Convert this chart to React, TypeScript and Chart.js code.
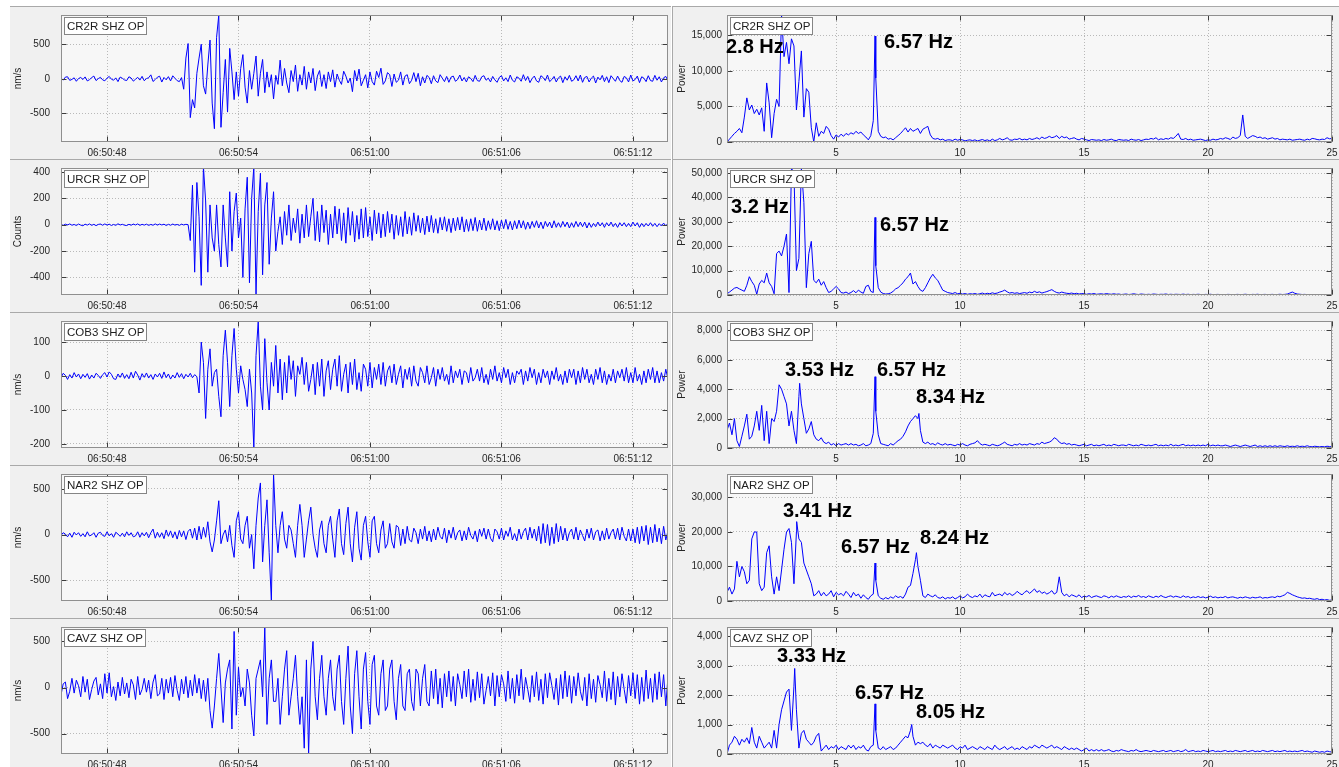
import { useEffect, useRef } from "react";
import { Chart, registerables } from "chart.js";

Chart.register(...registerables);
Chart.defaults.font.family = '"Liberation Sans", Arial, sans-serif';
Chart.defaults.color = "#262626";

// ---------------------------------------------------------------------------
// Stations (vertical short-period channels)
// ---------------------------------------------------------------------------
const STATIONS = ["CR2R SHZ OP", "URCR SHZ OP", "COB3 SHZ OP", "NAR2 SHZ OP", "CAVZ SHZ OP"];
const TRACE_UNITS = ["nm/s", "Counts", "nm/s", "nm/s", "nm/s"];

// ---------------------------------------------------------------------------
// Seismograms: seconds after 06:50:00, one sample every 0.1 s
// ---------------------------------------------------------------------------
const TRACE_T0 = 45.9;
const TRACE_DT = 0.1;
const TIME_TICKS = [48, 54, 60, 66, 72];

const CR2R_TRACE = [
  12, -18, 25, 30, -22, -8, 15, -35, 5, 20,
  -10, 28, -30, -12, 18, 40, -25, 3, 22, -15,
  -28, 10, 35, -5, -20, 14, -40, 26, 8, -16,
  -24, 30, 12, -33, -6, 22, -18, 36, -28, 4,
  16, 58, -38, -10, 24, 38, -46, 20, -14, 32,
  -30, 44, 8, -26, -40, 18,
  -150, 300, 510, -560, -300, -420, 80, 300, 500, -100,
  -220, 200, 560, -350, -720, 600, 920, -700, -200, 280,
  -480, 440, 100, -300, 100, -250, 150, 350, -120, -350,
  120, -150, 80, 330, -250, 80, 280, -200, 100, -120,
  60, -290, 50, -80, 270, -100, 150, -60, -200, 120,
  -40, 200, -180, 60, -90, 180, -150, 100, -60, 150,
  -170, 40, 120, -110, 60, -140, 100, -40, 130, -120,
  70, -20, -80, 110, 40, -60, 10, -185, 120, -30,
  140, -100, -20, 60, -130, 100, -40, -90, 110, 20,
  154, -80, -30, 90, 60, -110, 70, -50, -20, 100,
  -90, 40, 60, -70, -20, 90, -40, 80, -100, 30,
  -60, 50, 20, -70, 45, -30, -55, 60, 10, -40,
  35, -50, 25, 40, -35, -10, 55, -30, 20, -45,
  30, 5, -40, 50, -25, -35, 30, 45, -20, 10,
  -45, 35, -15, -50, 20, 45, -30, 15, -40, 55,
  -20, -45, 30, 10, -35, 60, -25, 35, -55, 5,
  40, -30, -50, 45, 20, -25, 55, -40, -10, 35,
  -45, 15, 40, -55, 30, -20, 50, -35, -15, 45,
  -30, 55, -50, 20, 35, -45, 10, 40, -60, 25,
  -15, 50, -40, 30, -55, 45, 5, -35, 40, -25,
  -50, 35, 15, -45, 55, -30, -10, 40, -55, 30,
  10, -40, 45, -25, -35, 50, -20, 30, -45, 15, 35, -30,
];

const URCR_TRACE = [
  3, -5, 4, -2, 6, -4, 2, -6, 5, -3,
  -8, 4, -3, 6, -5, 3, -7, 2, 5, -4,
  6, -3, 4, -6, 2, -5, 7, -2, 3, -4,
  -6, 3, -4, 5, -2, 6, -5, 3, -3, 4,
  -5, 2, -4, 6, -3, 5, -2, 4, -6, 3,
  -4, 5, -3, 2, -5, 4, -2, 3,
  0, -120, 300, -360, 320, 60, -460, 440, 180, -360,
  150, -100, -200, 150, -150, -320, 150, -100, -320, 250,
  -200, 100, 240, -100, 50, -400, 120, 360, -440, 200,
  440, -533, 100, 390, -380, 150, 320, -300, 50, 250,
  -200, -50, 60, -150, 100, -80, 150, -120, 50, -60,
  120, -140, 80, -100, 150, -90, 60, 200, -120, 100,
  -130, 150, -60, 110, -150, 80, -100, 140, -70, 120,
  -120, 90, -140, 130, -80, 100, -130, 70, -110, 120,
  -100, 130, -90, 60, -120, 110, -70, 90, -100, 80,
  -90, 100, -60, 80, -110, 70, -80, 60, -90, 100,
  -70, 60, -80, 90, -50, 70, -60, 50, -75, 65,
  -55, 70, -60, 45, -65, 55, -40, 60, -50, 45,
  -60, 50, -45, 55, -40, 60, -55, 40, -50, 45,
  -45, 55, -50, 35, -40, 50, -45, 30, -35, 45,
  -40, 30, -45, 35, -30, 40, -35, 25, -40, 30,
  -30, 35, -25, 30, -35, 20, -30, 25, -20, 30,
  -25, 20, -30, 25, -15, 20, -25, 30, -20, 15,
  -20, 25, -15, 20, -25, 15, -20, 25, -15, 20,
  -15, 20, -25, 15, -20, 10, -15, 20, -10, 15,
  -20, 15, -10, 20, -15, 10, -20, 15, -10, 15,
  -15, 10, -15, 20, -10, 15, -20, 10, -15, 10,
  -10, 15, -12, 10, -15, 8, -10, 12, -8, 10,
];

const COB3_TRACE = [
  -5, 8, 2, -10, 4, -6, 10, -3, 6, -8,
  5, -4, 7, -9, 3, -6, 8, 2, -7, 4,
  10, -3, 12, 5, -8, -10, 6, -4, 9, -7,
  4, -8, 11, -6, 14, 3, -12, 7, -4, 9,
  -6, 4, -10, 6, -3, 8, -7, 12, -5, 6,
  -9, 3, -6, 10, -4, 7, -8, 5, -3, 8,
  -5, 4, -2,
  -50, 100, 40, -125, 20, 80, -30, 10, 20, -60,
  -120, 60, 135, 40, -90, 60, 140, 20, -50, 30,
  -10, -40, -90, 20, -50, -212, 60, 162, -30, -100,
  110, -20, -100, 40, -30, 90, -50, 50, -70, 40,
  -50, 60, -10, 45, -60, 30, 5, 55, -25, 40,
  -45, -10, 35, -55, 40, -30, 50, -60, 15, 45,
  -40, 20, 50, -30, 60, -45, 5, 35, -50, 40,
  -25, 50, -40, 10, -45, 35, 20, -30, 40, -35,
  25, -10, 35, -25, 40, -30, 15, 30, -20, 35,
  -25, 5, 30, -35, 20, -10, 25, -30, 30, -15,
  -30, 25, 10, -20, 30, -25, -5, 25, -30, 20,
  -10, 25, -15, 5, -25, 30, -20, 15, -5, 20,
  -25, 15, 10, -20, 25, -15, -5, 20, -15, 25,
  -20, 5, -25, 20, -10, 30, -15, 10, -20, 25,
  -5, 20, -25, 10, -20, 15, 5, 20, -25, 15,
  -15, 25, -5, 20, -25, 10, -20, 20, -5, 15,
  -25, 15, -10, 25, -15, 5, -25, 15, -20, 20,
  -5, 20, -25, 15, -20, 25, -10, 20, -20, 5,
  -25, 20, -10, 25, -20, 15, -25, 5, -15, 20,
  -20, 15, -5, 20, -15, 25, -20, 10, -20, 25,
  -15, 5, -25, 15, -20, 20, -10, 25, -20, 15,
  -20, 10, -15, 20, -10,
];

const NAR2_TRACE = [
  -10, 20, 5, -25, 15, -30, 25, -5, 20, -20,
  10, -25, 30, -15, -5, 20, -30, 15, 25, -10,
  -20, 30, -15, 10, -30, 25, 5, -20, 15, -25,
  30, -10, 20, -25, -15, 30, -30, 20, -15, 25,
  -35, 20, 60, -40, 25, -30, 20, -45, 50, -20,
  40, -35, 30, -50, 45, -25, 40, -55, 35, 60,
  -40, 70, -60, 90, -50, 80, -30, 140, -80, -190,
  -60, 150, 370, -100, 0, 50, -80, 100, -120, -250,
  150, 250, -50, -100, 100, 200, -150, 0, -375, 100,
  400, 565, -300, 100, 380, -200, -728, 663, 100, -200,
  100, 250, -50, -150, 100, 50, -100, -250, 100, 330,
  100, -250, -50, 150, 300, 0, -150, -250, 50, 150,
  -100, -200, 100, 200, -50, -250, 150, 280, -100, -220,
  120, 300, -100, -300, 80, 250, -150, -280, 100, 200,
  -80, -250, 150, 200, -100, -200, 50, 150, -150, -100,
  120, -80, -150, 100, 80, -120, 60, -100, 90, -60,
  -80, 70, 20, -100, 60, -50, 90, -70, 40, -80,
  60, -60, 80, -20, -50, 70, -90, 50, -40, 80,
  -60, 20, 50, -70, 40, -60, 80, -10, -50, 40,
  -80, 60, -20, 70, -50, 60, -40, -80, 60, 30,
  -50, 70, -60, 40, -20, 80, -60, 10, -70, 60,
  -50, 30, 70, -60, 80, -40, 60, -70, 90, -100,
  120, -90, 110, -120, 80, -100, 120, -80, 90, -60,
  70, -70, 20, 60, -50, 80, -60, 50, -10, -70,
  60, -40, 70, -60, 30, 50, -70, 40, -60, 70,
  -50, 20, 60, -50, 70, -60, 80, -20, -70, 60,
  -70, 60, -90, 80, -100, 90, -70, 100, -110, 80,
  -90, 110, -80, 70, -100, 90, -60, 40,
];

const CAVZ_TRACE = [
  -80, 40, 60, -120, -40, 100, -60, 80, 20, -100,
  120, -50, 90, -130, -20, 70, 110, -80, 40, -120,
  150, -60, 160, -100, 10, -140, 60, -90, 110, -70,
  50, -110, 90, 30, -130, 120, -80, -20, 100, -50,
  80, -120, 60, 140, -90, -70, 100, -130, 90, -60,
  110, -100, 130, -30, -140, 90, -70, 120, -110, 80,
  -90, 140, -60, 100, -120, 80, -150, 100, -250, -440,
  -200, 100, 370, 0, -380, 50, 200, 300, -450, 609,
  -300, 220, -100, 0, -200, 200, 50, -300, -525, 100,
  200, 300, -100, 657, -400, 100, 300, -150, -150, 100,
  -400, -100, 200, 400, -300, -100, 100, 350, -100, -400,
  -100, -658, 300, -721, 200, 500, -100, -350, 100, 350,
  -100, -300, 100, 300, -100, -250, 200, 350, -150, -400,
  100, 450, -200, -500, 150, 400, -100, -450, 200, 380,
  -150, -400, 250, 350, -200, -300, 150, 300, -250, -200,
  200, 300, -150, -350, 100, 250, -200, -250, 150, 200,
  -150, -250, 200, 150, -200, 100, 250, -150, -200, 180,
  -120, 200, -180, 100, -220, 150, -100, 180, -150, 120,
  -200, 150, 30, -120, 180, -100, 200, -160, 90, -140,
  170, -110, 150, -180, -30, 120, -90, 160, -200, 130,
  -100, 140, 40, -150, 180, -120, 100, -170, 140, -90,
  200, -130, 110, -20, -160, 130, -100, 170, -140, 90,
  -180, 150, -110, 160, 20, -130, 100, -190, 140, -120,
  180, -100, 130, -170, 120, -90, 160, -40, -140, 110,
  -200, 150, -120, 90, -160, 130, 30, -110, 180, -150,
  100, -130, 170, -190, 120, -100, 150, -20, -170, 130,
  -90, 160, -120, 140, -180, 110, -150, 190, -120, 100,
  -160, 150, -130, 170, -100, 140, -200, 120,
];

const TRACE_LIMITS = [[-912, 922], [-533, 430], [-212, 162], [-728, 663], [-721, 657]];
const TRACE_TICKS = [
  [-500, 0, 500],
  [-400, -200, 0, 200, 400],
  [-200, -100, 0, 100],
  [-500, 0, 500],
  [-500, 0, 500],
];

// ---------------------------------------------------------------------------
// Power spectra: one value every 0.1 Hz from 0.6 Hz to 25 Hz,
// plus the picked spectral peaks [frequency Hz, power]
// ---------------------------------------------------------------------------
const FREQ_F0 = 0.6;
const FREQ_DF = 0.1;
const FREQ_TICKS = [5, 10, 15, 20, 25];

const CR2R_SPECTRUM = [
  0, 400, 800, 1200, 1500, 1900, 1300, 3500, 6200, 4500,
  5200, 4000, 4600, 3800, 4800, 1500, 8300, 5500, 600, 4000,
  6000, 5000, 16000, 12000, 14000, 11000, 14500, 13500, 4500, 8500,
  12800, 3500, 7500, 7000, 2000, 0, 2700, 800, 1500, 1200,
  2200, 1800, 900, 400, 1000, 700, 1100, 800, 1200, 1000,
  1300, 1100, 1500, 1200, 1400, 1000, 700, 300, 900, 3000,
  9000, 1500, 800, 600, 700, 400, 500, 300, 600, 900,
  1200, 1600, 2000, 1400, 1900, 1500, 1700, 1900, 1200, 1800,
  2000, 2200, 1000, 500, 400, 500, 300, 400, 200, 300,
  300, 200, 400, 250, 350, 300, 150, 250, 300, 200,
  300, 150, 250, 350, 200, 300, 150, 400, 200, 300,
  500, 300, 400, 600, 300, 250, 400, 350, 500, 300,
  400, 300, 500, 350, 450, 600, 400, 700, 500, 600,
  800, 600, 700, 900, 500, 800, 600, 700, 400, 500,
  600, 400, 300, 500, 400, 300, 200, 350, 300, 250,
  300, 200, 350, 250, 300, 400, 250, 200, 350, 300,
  250, 300, 200, 400, 300, 250, 350, 200, 300, 400,
  350, 500, 400, 600, 300, 450, 350, 500, 400, 600,
  500, 800, 1200, 400, 350, 500, 300, 400, 250, 300,
  350, 400, 300, 200, 300, 250, 400, 300, 350, 500,
  400, 600, 500, 350, 700, 500, 600, 900, 3800, 800,
  500, 700, 900, 800, 600, 700, 500, 600, 400, 500,
  600, 400, 500, 300, 400, 350, 300, 400, 250, 300,
  350, 400, 300, 250, 400, 300, 500, 450, 350, 300,
  400, 350, 600, 450, 500,
];
const CR2R_PEAKS = [[2.8, 17800], [6.57, 14900]];

const URCR_SPECTRUM = [
  500, 1200, 2000, 2800, 3100, 2500, 2000, 1500, 4000, 7500,
  5500, 4000, 300, 4500, 6000, 5000, 9000, 5000, 3500, 500,
  17000, 18000, 16000, 20000, 25000, 1000, 45000, 50000, 10000, 15000,
  52000, 38000, 3000, 17000, 22000, 6000, 5000, 6500, 4000, 5500,
  3000, 1000, 1500, 2500, 3500, 2500, 1000, 800, 1200, 600,
  1000, 1800, 900, 2000, 1200, 700, 3500, 4000, 1500, 1000,
  12000, 3000, 1200, 600, 400, 500, 800, 1500, 2500, 3000,
  4000, 5000, 6500, 7500, 9000, 4500, 5500, 3500, 2000, 1500,
  3000, 5000, 7000, 8500, 7000, 6000, 4000, 2000, 1500, 1000,
  800, 600, 1000, 500, 700, 400, 600, 300, 500, 400,
  600, 300, 500, 800, 400, 700, 500, 900, 600, 800,
  1200, 1500, 2000, 1300, 800, 1000, 700, 900, 600, 800,
  1000, 700, 1200, 900, 1500, 1000, 1300, 800, 1100, 1400,
  1800, 2200, 1500, 1000, 800, 1200, 900, 700, 600, 800,
  500, 700, 400, 600, 500, 300, 500, 400, 600, 300,
  400, 500, 300, 600, 400, 300, 500, 300, 400, 200,
  300, 400, 200, 300, 500, 300, 200, 400, 300, 200,
  300, 200, 400, 300, 200, 300, 250, 400, 200, 300,
  200, 300, 250, 200, 350, 200, 300, 150, 250, 200,
  300, 200, 150, 250, 200, 300, 150, 200, 250, 150,
  200, 150, 250, 200, 150, 200, 250, 150, 200, 300,
  200, 150, 250, 200, 300, 150, 200, 250, 150, 200,
  250, 150, 200, 300, 200, 250, 400, 800, 1200, 700,
  400, 300, 200, 250, 150, 200, 100, 150, 100, 150,
  100, 150, 80, 100, 50,
];
const URCR_PEAKS = [[3.2, 52000], [6.57, 31800]];

const COB3_SPECTRUM = [
  1200, 1700, 900, 2000, 500, 100, 800, 1500, 2300, 600,
  800, 1500, 2500, 1200, 2900, 500, 2500, 300, 2000, 1800,
  2500, 4300, 4000, 3500, 3000, 1500, 2500, 1200, 300, 3500,
  3000, 2000, 1000, 1300, 1800, 900, 600, 500, 700, 400,
  300, 400, 200, 300, 150, 300, 200, 250, 300, 200,
  300, 200, 250, 150, 200, 300, 150, 200, 300, 1000,
  2500, 900, 300, 250, 200, 150, 300, 200, 350, 500,
  600, 800, 1100, 1500, 1800, 2000, 2200, 2000, 1200, 400,
  300, 400, 250, 300, 200, 350, 250, 200, 300, 200,
  250, 200, 150, 250, 200, 300, 200, 150, 250, 300,
  350, 500, 300, 200, 250, 200, 150, 250, 200, 150,
  200, 300, 400, 250, 200, 150, 250, 200, 300, 200,
  250, 200, 300, 250, 200, 300, 250, 400, 300, 350,
  400, 500, 700, 600, 400, 300, 350, 250, 300, 200,
  250, 200, 150, 200, 250, 150, 200, 250, 150, 200,
  150, 200, 250, 150, 200, 150, 250, 200, 150, 200,
  200, 150, 250, 200, 150, 200, 150, 250, 200, 150,
  200, 150, 200, 250, 150, 200, 150, 200, 150, 250,
  150, 200, 150, 200, 250, 150, 200, 150, 200, 150,
  200, 150, 200, 150, 250, 150, 200, 150, 200, 150,
  150, 200, 150, 100, 150, 200, 150, 100, 150, 200,
  150, 100, 150, 200, 100, 150, 100, 150, 100, 150,
  100, 150, 100, 150, 120, 100, 150, 100, 120, 100,
  150, 100, 120, 100, 150, 100, 80, 120, 100, 80,
  100, 80, 120, 100, 80,
];
const COB3_PEAKS = [[3.53, 4400], [6.57, 4850], [8.34, 2350]];

const NAR2_SPECTRUM = [
  2500, 4000, 2000, 3500, 11500, 7000, 10000, 8500, 5000, 6000,
  18000, 20000, 20000, 5000, 3000, 4000, 14000, 16000, 7000, 2000,
  7000, 3000, 9000, 15000, 20000, 21000, 17000, 5000, 20000, 18000,
  17000, 11000, 9000, 7000, 5000, 1500, 2000, 3000, 1500, 2500,
  1500, 2000, 3000, 1200, 2500, 1800, 2200, 1500, 2800, 2000,
  1000, 2500, 1500, 2000, 800, 1800, 1000, 500, 1500, 2000,
  6000, 1500, 800, 500, 1000, 600, 1200, 800, 1500, 1000,
  1300, 800, 2000, 4000, 4500, 8000, 12000, 10000, 6000, 1500,
  1000, 2000, 1500, 1200, 1800, 1000, 800, 1200, 600, 1000,
  800, 1200, 600, 1000, 1500, 900, 1200, 2000, 1300, 1000,
  1500, 1200, 2000, 1000, 1800, 1400, 1200, 2500, 1500, 1800,
  2000, 1500, 2500, 1800, 2200, 1600, 2000, 2800, 2200, 1800,
  2500, 3000, 2200, 2800, 3500, 2500, 3000, 2200, 2600, 2000,
  2400, 3000, 2000, 2500, 7000, 2500, 1500, 2000, 1200, 1800,
  1500, 1200, 1800, 1000, 1400, 1200, 1600, 1000, 1300, 1500,
  1200, 1000, 1500, 1300, 900, 1400, 1100, 1500, 1200, 1000,
  1300, 1100, 1500, 1000, 1400, 1200, 1600, 1100, 1300, 1000,
  1500, 1200, 1000, 1400, 1100, 1600, 1200, 1000, 1300, 1500,
  1100, 1400, 1200, 1000, 1500, 1100, 1300, 900, 1200, 1000,
  1300, 1000, 1200, 900, 1100, 1400, 1000, 1200, 900, 1100,
  1000, 1300, 900, 1100, 1200, 1000, 800, 1100, 900, 1200,
  1000, 800, 1100, 900, 1000, 1200, 800, 1000, 900, 1100,
  1200, 1000, 1400, 1200, 1500, 1800, 2500, 2200, 1800, 1500,
  1200, 1000, 800, 900, 700, 800, 600, 500, 700, 400,
  500, 300, 400, 200, 300,
];
const NAR2_PEAKS = [[3.41, 23000], [6.57, 11000], [8.24, 14000]];

const CAVZ_SPECTRUM = [
  0, 300, 400, 600, 500, 300, 500, 400, 550, 350,
  900, 400, 200, 600, 400, 200, 300, 400, 200, 800,
  200, 1000, 1500, 1800, 2100, 2200, 800, 2300, 1500, 200,
  700, 800, 500, 400, 300, 400, 600, 700, 100, 200,
  300, 150, 250, 200, 300, 150, 250, 200, 150, 300,
  200, 300, 150, 250, 200, 300, 150, 100, 250, 300,
  800, 200, 150, 250, 150, 200, 250, 150, 200, 300,
  400, 500, 600, 550, 800, 600, 300, 400, 350, 400,
  300, 250, 350, 200, 300, 250, 200, 300, 250, 200,
  250, 300, 200, 150, 250, 200, 300, 150, 200, 250,
  200, 150, 250, 200, 150, 250, 200, 150, 300, 200,
  150, 200, 250, 150, 200, 250, 150, 200, 150, 250,
  200, 150, 250, 200, 300, 250, 200, 300, 250, 200,
  250, 300, 200, 250, 200, 150, 250, 200, 150, 200,
  150, 200, 150, 100, 150, 200, 100, 150, 100, 150,
  100, 150, 100, 120, 150, 100, 80, 120, 100, 150,
  120, 100, 80, 120, 100, 150, 100, 80, 100, 120,
  100, 80, 120, 100, 80, 100, 120, 80, 100, 120,
  80, 100, 120, 80, 100, 150, 80, 100, 120, 80,
  100, 80, 120, 100, 80, 100, 120, 80, 100, 80,
  100, 120, 80, 100, 80, 120, 100, 80, 100, 120,
  80, 100, 120, 80, 100, 80, 120, 100, 80, 100,
  120, 80, 100, 80, 100, 120, 80, 100, 80, 100,
  80, 100, 120, 80, 100, 80, 60, 100, 80, 60,
  80, 60, 100, 80, 60,
];
const CAVZ_PEAKS = [[3.33, 2900], [6.57, 1700], [8.05, 1000]];

const POWER_MAX = [17850, 52060, 8640, 36800, 4306];
const POWER_TICKS = [
  [0, 5000, 10000, 15000],
  [0, 10000, 20000, 30000, 40000, 50000],
  [0, 2000, 4000, 6000, 8000],
  [0, 10000, 20000, 30000],
  [0, 1000, 2000, 3000, 4000],
];

const TRACES = [CR2R_TRACE, URCR_TRACE, COB3_TRACE, NAR2_TRACE, CAVZ_TRACE];
const SPECTRA = [CR2R_SPECTRUM, URCR_SPECTRUM, COB3_SPECTRUM, NAR2_SPECTRUM, CAVZ_SPECTRUM];
const PEAKS = [CR2R_PEAKS, URCR_PEAKS, COB3_PEAKS, NAR2_PEAKS, CAVZ_PEAKS];

// ---------------------------------------------------------------------------
// Layout
// ---------------------------------------------------------------------------
const ROW_TOP = 7;
const ROW_PITCH = 153;
const CANVAS_H = 152;
const PLOT_TOP = 8;
const X_AXIS_H = 17;

const LEFT_COL = { left: 10, width: 661, axisWidth: 51, padRight: 3, tickPad: 11, titlePad: 2 };
const RIGHT_COL = { left: 673, width: 666, axisWidth: 54, padRight: 7, tickPad: 5, titlePad: 3.5 };

// peak label placement, [left, middle] in px from the plot's top-left corner
const PEAK_LABEL_SPOTS = [
  [[-1, 32], [157, 27]],
  [[4, 39], [153, 57]],
  [[58, 49], [150, 49], [189, 76]],
  [[56, 37], [114, 73], [193, 64]],
  [[50, 29], [128, 66], [189, 85]],
];

type Pt = { x: number; y: number };

function tracePoints(values: number[]): Pt[] {
  return values.map((v, i) => ({ x: +(TRACE_T0 + i * TRACE_DT).toFixed(2), y: v }));
}

function spectrumPoints(values: number[], peaks: number[][]): Pt[] {
  const pts = values
    .map((v, i) => ({ x: +(FREQ_F0 + i * FREQ_DF).toFixed(2), y: v }))
    .filter((p) => !peaks.some(([f]) => Math.abs(f - p.x) < 0.005));
  for (const [f, p] of peaks) pts.push({ x: f, y: p });
  return pts.sort((a, b) => a.x - b.x);
}

function clock(s: number): string {
  const total = 6 * 3600 + 50 * 60 + Math.round(s);
  const h = Math.floor(total / 3600);
  const m = Math.floor((total % 3600) / 60);
  const sec = total % 60;
  return [h, m, sec].map((n) => String(n).padStart(2, "0")).join(":");
}

const plotBackground = {
  id: "plotBackground",
  beforeDraw(chart: any) {
    const { ctx, chartArea: a } = chart;
    ctx.save();
    ctx.fillStyle = "#f7f7f7";
    ctx.fillRect(a.left, a.top, a.right - a.left, a.bottom - a.top);
    ctx.restore();
  },
};

const axesFrame = {
  id: "axesFrame",
  afterDatasetsDraw(chart: any) {
    const { ctx, chartArea: a, scales } = chart;
    const l = Math.round(a.left) + 0.5;
    const r = Math.round(a.right) - 0.5;
    const t = Math.round(a.top) + 0.5;
    const b = Math.round(a.bottom) - 0.5;
    ctx.save();
    ctx.lineWidth = 1;
    ctx.strokeStyle = "#3c3c3c";
    ctx.beginPath();
    for (const tk of scales.x.ticks) {
      const px = Math.round(scales.x.getPixelForValue(tk.value)) + 0.5;
      ctx.moveTo(px, t);
      ctx.lineTo(px, t + 5);
      ctx.moveTo(px, b);
      ctx.lineTo(px, b - 5);
    }
    for (const tk of scales.y.ticks) {
      const py = Math.round(scales.y.getPixelForValue(tk.value)) + 0.5;
      ctx.moveTo(l, py);
      ctx.lineTo(l + 5, py);
      ctx.moveTo(r, py);
      ctx.lineTo(r - 5, py);
    }
    ctx.stroke();
    ctx.strokeStyle = "#8f8f8f";
    ctx.strokeRect(l, t, r - l, b - t);
    ctx.restore();
  },
};

function stationBox(text: string) {
  return {
    id: "stationBox",
    afterDatasetsDraw(chart: any) {
      const { ctx, chartArea: a } = chart;
      ctx.save();
      ctx.font = '11.5px "Liberation Sans", Arial, sans-serif';
      const w = Math.round(ctx.measureText(text).width) + 6;
      const x = Math.round(a.left) + 3;
      const y = Math.round(a.top) + 2;
      ctx.fillStyle = "#ffffff";
      ctx.fillRect(x, y, w, 18);
      ctx.strokeStyle = "#858585";
      ctx.lineWidth = 1;
      ctx.strokeRect(x + 0.5, y + 0.5, w - 1, 17);
      ctx.fillStyle = "#1e1e1e";
      ctx.textBaseline = "middle";
      ctx.fillText(text, x + 3, y + 9.5);
      ctx.restore();
    },
  };
}

function peakLabels(peaks: number[][], spots: number[][]) {
  return {
    id: "peakLabels",
    afterDatasetsDraw(chart: any) {
      const { ctx, chartArea: a } = chart;
      ctx.save();
      ctx.font = 'bold 20px "Liberation Sans", Arial, sans-serif';
      ctx.fillStyle = "#000000";
      ctx.textBaseline = "middle";
      peaks.forEach(([f], i) => {
        const [dx, dy] = spots[i];
        ctx.fillText(`${f} Hz`, a.left + dx, a.top + dy);
      });
      ctx.restore();
    },
  };
}

type PanelSpec = {
  col: typeof LEFT_COL;
  row: number;
  points: Pt[];
  xMin: number;
  xMax: number;
  xTicks: number[];
  xFormat: (v: number) => string;
  yMin: number;
  yMax: number;
  yTicks: number[];
  yTitle: string;
  plugins: any[];
};

function buildConfig(spec: PanelSpec): any {
  const { col } = spec;
  return {
    type: "line",
    data: {
      datasets: [
        {
          data: spec.points,
          borderColor: "#0000ff",
          borderWidth: 1,
          pointRadius: 0,
          tension: 0,
          fill: false,
        },
      ],
    },
    options: {
      animation: false,
      responsive: false,
      devicePixelRatio: 1,
      parsing: false,
      normalized: true,
      events: [],
      layout: { padding: { top: PLOT_TOP, right: col.padRight, left: 0, bottom: 0 } },
      plugins: { legend: { display: false }, tooltip: { enabled: false }, title: { display: false } },
      scales: {
        x: {
          type: "linear",
          min: spec.xMin,
          max: spec.xMax,
          afterBuildTicks: (s: any) => {
            s.ticks = spec.xTicks.map((v) => ({ value: v }));
          },
          afterFit: (s: any) => {
            s.height = X_AXIS_H;
            s.paddingLeft = 0;
            s.paddingRight = 0;
          },
          ticks: {
            autoSkip: false,
            maxRotation: 0,
            padding: 5,
            font: { size: 10 },
            color: "#262626",
            callback: (v: number) => spec.xFormat(v),
          },
          grid: { color: "#b9b9b9", lineWidth: 1, drawTicks: false },
          border: { display: false, dash: [1, 2] },
        },
        y: {
          type: "linear",
          min: spec.yMin,
          max: spec.yMax,
          afterBuildTicks: (s: any) => {
            s.ticks = spec.yTicks.map((v) => ({ value: v }));
          },
          afterFit: (s: any) => {
            s.width = col.axisWidth;
            s.paddingTop = 0;
            s.paddingBottom = 0;
          },
          ticks: {
            autoSkip: false,
            padding: col.tickPad,
            font: { size: 10 },
            color: "#262626",
            callback: (v: number) => v.toLocaleString("en-US"),
          },
          title: {
            display: true,
            text: spec.yTitle,
            font: { size: 10 },
            color: "#262626",
            padding: { top: col.titlePad, bottom: 0 },
          },
          grid: { color: "#b9b9b9", lineWidth: 1, drawTicks: false },
          border: { display: false, dash: [1, 2] },
        },
      },
    },
    plugins: [plotBackground, axesFrame, ...spec.plugins],
  };
}

const PANELS: PanelSpec[] = [];
STATIONS.forEach((station, r) => {
  PANELS.push({
    col: LEFT_COL,
    row: r,
    points: tracePoints(TRACES[r]),
    xMin: TRACE_T0,
    xMax: +(TRACE_T0 + (TRACES[r].length - 1) * TRACE_DT).toFixed(2),
    xTicks: TIME_TICKS,
    xFormat: clock,
    yMin: TRACE_LIMITS[r][0],
    yMax: TRACE_LIMITS[r][1],
    yTicks: TRACE_TICKS[r],
    yTitle: TRACE_UNITS[r],
    plugins: [stationBox(station)],
  });
  PANELS.push({
    col: RIGHT_COL,
    row: r,
    points: spectrumPoints(SPECTRA[r], PEAKS[r]),
    xMin: FREQ_F0,
    xMax: 25,
    xTicks: FREQ_TICKS,
    xFormat: (v: number) => String(v),
    yMin: 0,
    yMax: POWER_MAX[r],
    yTicks: POWER_TICKS[r],
    yTitle: "Power",
    plugins: [stationBox(station), peakLabels(PEAKS[r], PEAK_LABEL_SPOTS[r])],
  });
});

function ChartPanel({ spec }: { spec: PanelSpec }) {
  const ref = useRef<HTMLCanvasElement>(null);
  useEffect(() => {
    if (!ref.current) return;
    const chart = new Chart(ref.current, buildConfig(spec));
    return () => chart.destroy();
  }, [spec]);
  const top = ROW_TOP + spec.row * ROW_PITCH;
  return (
    <canvas
      ref={ref}
      width={spec.col.width}
      height={CANVAS_H}
      style={{ position: "absolute", left: spec.col.left, top, width: spec.col.width, height: CANVAS_H }}
    />
  );
}

export default function App() {
  const rows = [0, 1, 2, 3, 4];
  return (
    <div
      style={{
        position: "fixed",
        left: 0,
        top: 0,
        width: 1339,
        height: 767,
        background: "#ffffff",
        overflow: "hidden",
      }}
    >
      {rows.map((r) => (
        <div key={"l" + r}>
          <div
            style={{
              position: "absolute",
              left: LEFT_COL.left,
              top: ROW_TOP + r * ROW_PITCH - 1,
              width: LEFT_COL.width,
              height: ROW_PITCH,
              boxSizing: "border-box",
              background: "#f0f0f0",
              borderTop: "1px solid #a9a9a9",
            }}
          />
          <div
            style={{
              position: "absolute",
              left: RIGHT_COL.left - 1,
              top: ROW_TOP + r * ROW_PITCH - 1,
              width: RIGHT_COL.width + 1,
              height: ROW_PITCH,
              boxSizing: "border-box",
              background: "#f0f0f0",
              borderTop: "1px solid #a9a9a9",
              borderLeft: "1px solid #a9a9a9",
            }}
          />
        </div>
      ))}
      {PANELS.map((p, i) => (
        <ChartPanel key={i} spec={p} />
      ))}
    </div>
  );
}
